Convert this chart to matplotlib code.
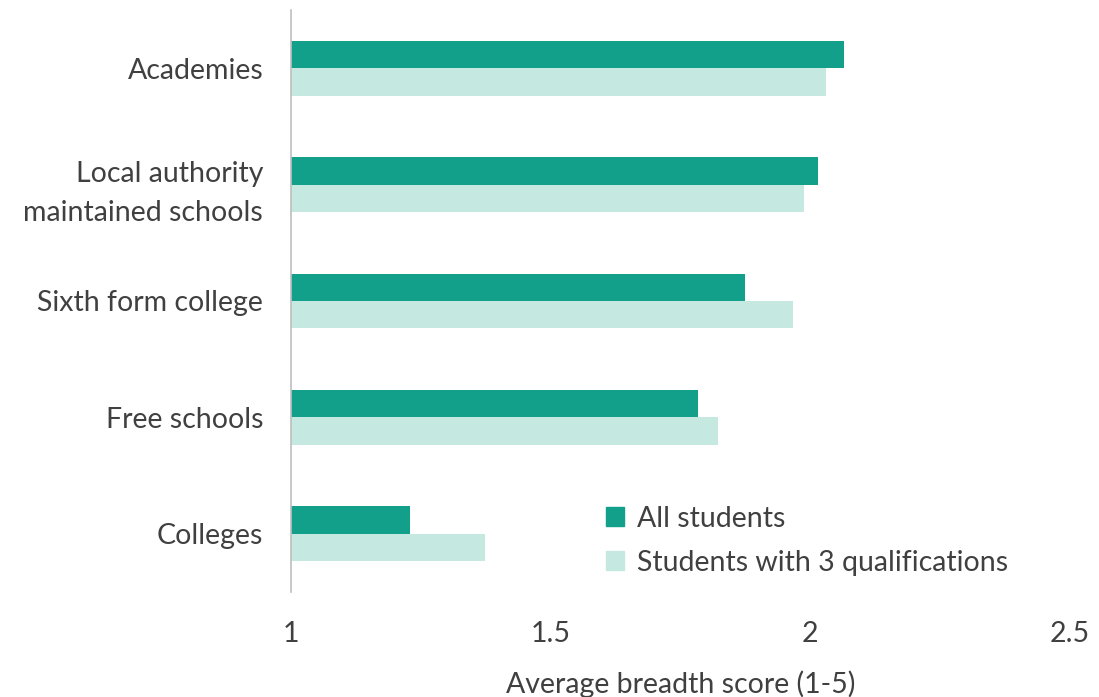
import numpy as np
import matplotlib.pyplot as plt
from matplotlib.patches import Patch

plt.rcParams['font.family'] = ['Lato', 'DejaVu Sans']

categories = ["Academies", "Local authority\nmaintained schools", "Sixth form college",
              "Free schools", "Colleges"]
all_students = [2.065, 2.015, 1.874, 1.784, 1.229]
three_quals = [2.03, 1.988, 1.967, 1.822, 1.374]

dark = "#12A08A"
light = "#C5E8E1"
text_col = "#404040"

fig = plt.figure(figsize=(10.99, 6.97), dpi=100)
ax = fig.add_axes([0.2648, 0.1506, 0.7088, 0.8351])

y = np.arange(len(categories))
h = 0.235
ax.barh(y - h / 2, [v - 1 for v in all_students], height=h, left=1, color=dark)
ax.barh(y + h / 2, [v - 1 for v in three_quals], height=h, left=1, color=light)

ax.set_xlim(1, 2.5)
ax.set_ylim(len(categories) - 0.5, -0.5)
ax.set_yticks(y)
ax.set_yticklabels(categories, fontsize=20.5, color=text_col, linespacing=1.62)
ax.set_xticks([1, 1.5, 2, 2.5])
ax.set_xticklabels(["1", "1.5", "2", "2.5"], fontsize=20.5, color=text_col)
ax.tick_params(axis="both", length=0)
ax.tick_params(axis="x", pad=21)
ax.tick_params(axis="y", pad=20)
ax.set_xlabel("Average breadth score (1-5)", fontsize=20.5, color=text_col, labelpad=17)

for s in ["top", "right", "bottom"]:
    ax.spines[s].set_visible(False)
ax.spines["left"].set_color("#BFBFBF")
ax.spines["left"].set_linewidth(1.2)

handles = [Patch(color=dark), Patch(color=light)]
ax.legend(handles, ["All students", "Students with 3 qualifications"],
          loc="center left", bbox_to_anchor=(0.404, 0.088), frameon=False,
          fontsize=20.5, handlelength=0.65, handleheight=0.65, handletextpad=0.45,
          labelspacing=0.62, borderpad=0, borderaxespad=0, labelcolor=text_col)

plt.savefig("out.png")
plt.close()
